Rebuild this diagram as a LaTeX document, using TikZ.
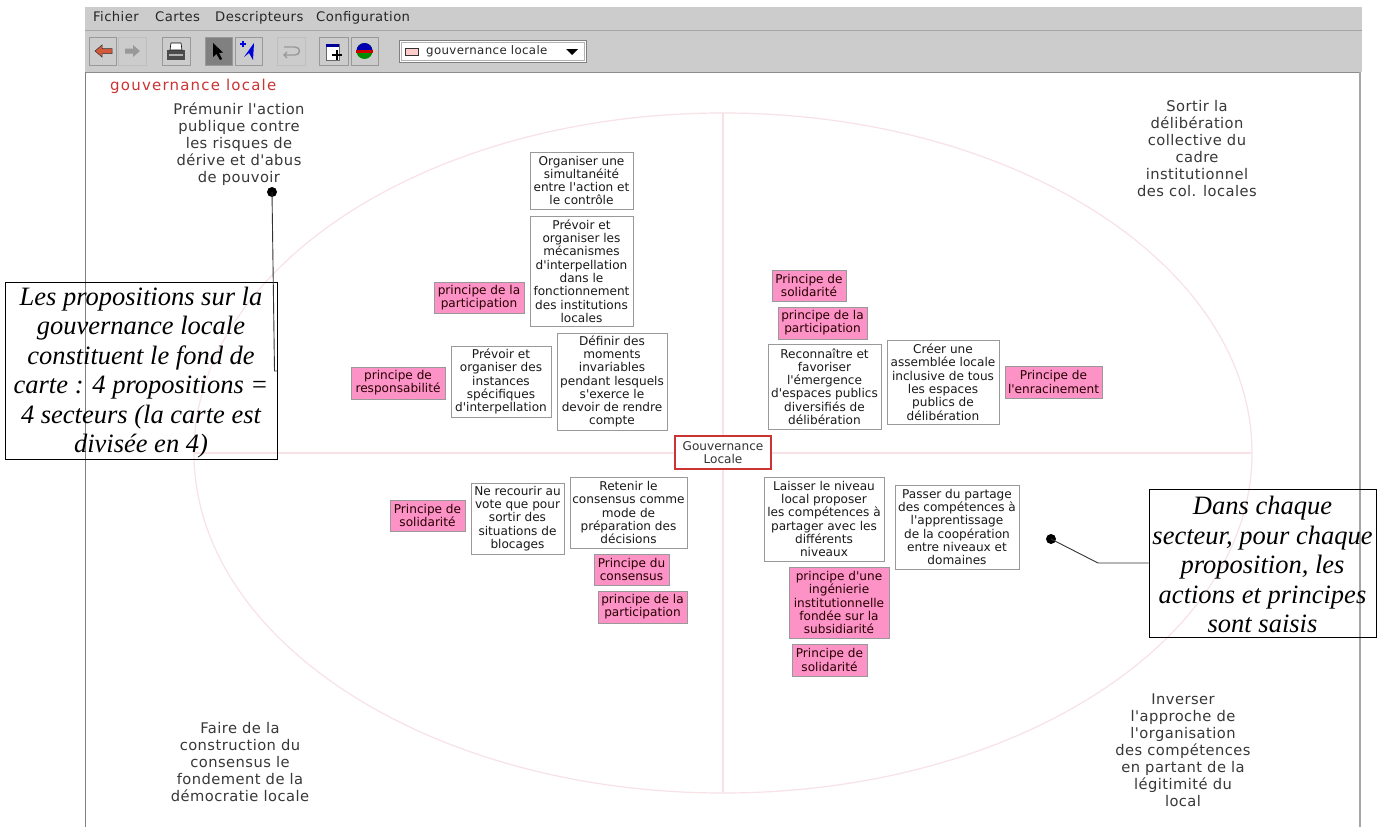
\documentclass[tikz,border=0pt]{standalone}
\usepackage{fontspec}
\setmainfont{DejaVu Sans}
\newfontfamily\boxfont{DejaVu Sans}
\newfontfamily\notefont{Liberation Serif}
\newfontfamily\spacedfont[LetterSpace=3]{DejaVu Sans}
\newfontfamily\titlefont[LetterSpace=8]{DejaVu Sans}
\newcommand\Bx[7]{\pgfmathsetmacro\bw{#5-#3}\pgfmathsetmacro\bh{#6-#4}\node[#1,minimum width=\bw pt,minimum height=\bh pt] (#2) at ({(#3+#5)/2},{(#4+#6)/2}) {#7};}
\definecolor{chrome}{HTML}{CCCCCC}
\definecolor{framegrey}{HTML}{999999}
\definecolor{axispink}{HTML}{F8E2E6}
\definecolor{princ}{HTML}{FC92C6}
\definecolor{centrered}{HTML}{CC3333}
\definecolor{backred}{HTML}{D4583A}
\tikzset{
  base/.style={inner sep=0pt,outer sep=0pt,align=center,font=\boxfont\fontsize{12.1}{13.3}\selectfont},
  actionbox/.style={base,draw=framegrey,line width=1pt,fill=white,text=black!90},
  princbox/.style={base,draw=framegrey,line width=1pt,fill=princ,text=black!85!red},
  centrebox/.style={base,draw=centrered,line width=1.1pt,fill=white,text=black!80},
  sector/.style={inner sep=0pt,align=center,text=black!78,font=\spacedfont\fontsize{14.7}{17}\selectfont},
  menuitem/.style={inner sep=0pt,anchor=west,text=black!85,text height=9pt,text depth=3pt,font=\spacedfont\fontsize{13.2}{14}\selectfont},
  notebox/.style={draw=black,line width=.8pt,inner sep=0pt,align=center,font=\notefont\itshape\fontsize{26.5}{29.5}\selectfont},
  notedot/.style={circle,fill=black,inner sep=0pt,minimum size=10pt},
  noteline/.style={draw=black!80,line width=.9pt},
  tool/.style={draw=black!40,fill=chrome,line width=.8pt},
}
\begin{document}
\begin{tikzpicture}[x=1pt,y=-1pt]
\useasboundingbox (0,0) rectangle (1390,827);
\fill[white] (0,0) rectangle (1390,827);
% window chrome
\fill[chrome] (85,7) rectangle (1362,72);
\draw[black!35,line width=.8pt] (85,30.5) -- (1362,30.5);
\draw[black!45,line width=.8pt] (85,72.5) -- (1360,72.5);
\draw[black!50,line width=1pt] (85.5,72) -- (85.5,827);
\draw[black!35,line width=2pt] (1360,72) -- (1360,827);
% menu
\node[menuitem] (m1) at (93,18) {Fichier};
\node[menuitem] (m2) at (155,18) {Cartes};
\node[menuitem] (m3) at (215,18) {Descripteurs};
\node[menuitem] (m4) at (316,18) {Configuration};
% toolbar buttons
\draw[tool] (89,37) rectangle (116,65);
\draw[tool,draw=black!25] (118,37) rectangle (146,65);
\draw[tool] (162,37) rectangle (190,65);
\draw[tool,fill=black!50] (205,37) rectangle (232,65);
\draw[tool] (235,37) rectangle (262,65);
\draw[tool,draw=black!25] (277,37) rectangle (305,65);
\draw[tool] (319,37) rectangle (348,65);
\draw[tool] (351,37) rectangle (378,65);
% back / forward
\fill[backred,draw=black!80,line width=.5pt] (95,51) -- (102,45) -- (102,48.5) -- (112,48.5) -- (112,53.5) -- (102,53.5) -- (102,57) -- cycle;
\fill[black!40] (140,51) -- (133,45) -- (133,48.5) -- (125,48.5) -- (125,53.5) -- (133,53.5) -- (133,57) -- cycle;
% printer
\fill[black!70] (167,50) rectangle (185,60);
\fill[white,draw=black,line width=.6pt] (171,43) -- (181,43) -- (182,50) -- (170,50) -- cycle;
\fill[black!30] (169,54) rectangle (183,56);
% arrow cursor
\fill[black] (213,43) -- (213,57) -- (216.5,54) -- (220,60) -- (222,59) -- (219,53) -- (223,52.5) -- cycle;
% placing tool
\fill[blue!85!black] (254,43) -- (253,60) -- (249,53) -- (244,57) -- cycle;
\draw[blue!85!black,line width=1.3pt] (240,44) -- (246,44) (243,41) -- (243,47);
% return
\draw[black!40,line width=1.4pt] (284,47) -- (295,47) .. controls (301,47) and (301,55) .. (295,55) -- (284,55) (287,52) -- (284,55) -- (287,58);
% table plus
\fill[white,draw=black!60,line width=.6pt] (326,44) rectangle (339,60);
\fill[blue!60!black] (326,44) rectangle (339,46.5);
\draw[black,line width=1.2pt] (337,50) -- (337,60) (332,55) -- (342,55);
% globe
\fill[green!55!black] (364.5,51) circle (8);
\fill[blue!70!black] (356.5,51) arc (180:360:8) -- cycle;
\fill[red!80!black] (356,49.5) rectangle (373,52.5);
% combo
\draw[black!50,fill=white,line width=.8pt] (399,40) rectangle (586,62);
\draw[black!30,line width=.6pt] (401,42) rectangle (584,60);
\fill[red!20,draw=black!80,line width=.6pt] (405,48) rectangle (418,55);
\node[menuitem,font=\spacedfont\fontsize{11.8}{13}\selectfont] (combo) at (426,51) {gouvernance locale};
\fill[black] (566,49) -- (578,49) -- (572,55) -- cycle;
% map background
\coordinate (c) at (723,453);
\draw[axispink,line width=1.2pt] (c) ellipse [x radius=529,y radius=340];
\draw[axispink,line width=1.2pt] (723,113) -- (723,793);
\draw[axispink,line width=1.2pt] (194,453) -- (1252,453);
\node[anchor=west,inner sep=0pt,text=centrered,font=\titlefont\fontsize{15}{15}\selectfont] (title) at (110,86) {gouvernance locale};
% sector labels
\node[sector] (s1) at (239,144) {Prémunir l'action\\publique contre\\les risques de\\dérive et d'abus\\de pouvoir};
\node[sector] (s2) at (1197,149) {Sortir la\\délibération\\collective du\\cadre\\institutionnel\\des col. locales};
\node[sector] (s3) at (240,762) {Faire de la\\construction du\\consensus le\\fondement de la\\démocratie locale};
\node[sector] (s4) at (1183,750) {Inverser\\l'approche de\\l'organisation\\des compétences\\en partant de la\\légitimité du\\local};
% upper left
\Bx{actionbox}{a1}{530}{152}{633}{209}{Organiser une\\simultanéité\\entre l'action et\\le contrôle}
\Bx{actionbox}{a2}{530}{216}{633}{326}{Prévoir et\\organiser les\\mécanismes\\d'interpellation\\dans le\\fonctionnement\\des institutions\\locales}
\Bx{princbox}{p1}{434}{282}{524}{313}{principe de la\\participation}
\Bx{actionbox}{a3}{451}{346}{551}{417}{Prévoir et\\organiser des\\instances\\spécifiques\\d'interpellation}
\Bx{actionbox}{a4}{557}{333}{667}{430}{Définir des\\moments\\invariables\\pendant lesquels\\s'exerce le\\devoir de rendre\\compte}
\Bx{princbox}{p2}{351}{367}{445}{399}{principe de\\responsabilité}
% upper right
\Bx{princbox}{p3}{772}{270}{846}{301}{Principe de\\solidarité}
\Bx{princbox}{p4}{778}{307}{867}{339}{principe de la\\participation}
\Bx{actionbox}{a5}{768}{344}{881}{429}{Reconnaître et\\favoriser\\l'émergence\\d'espaces publics\\diversifiés de\\délibération}
\Bx{actionbox}{a6}{887}{340}{999}{424}{Créer une\\assemblée locale\\inclusive de tous\\les espaces\\publics de\\délibération}
\Bx{princbox}{p5}{1005}{366}{1102}{398}{Principe de\\l'enracinement}
% centre
\Bx{centrebox}{gl}{675}{436}{771}{469}{Gouvernance\\Locale}
% lower left
\Bx{princbox}{p6}{390}{500}{465}{531}{Principe de\\solidarité}
\Bx{actionbox}{a7}{471}{483}{564}{554}{Ne recourir au\\vote que pour\\sortir des\\situations de\\blocages}
\Bx{actionbox}{a8}{570}{477}{687}{548}{Retenir le\\consensus comme\\mode de\\préparation des\\décisions}
\Bx{princbox}{p7}{594}{554}{669}{585}{Principe du\\consensus}
\Bx{princbox}{p8}{598}{591}{687}{623}{principe de la\\participation}
% lower right
\Bx{actionbox}{a9}{764}{477}{884}{561}{Laisser le niveau\\local proposer\\les compétences à\\partager avec les\\différents\\niveaux}
\Bx{actionbox}{a10}{895}{485}{1019}{569}{Passer du partage\\des compétences à\\l'apprentissage\\de la coopération\\entre niveaux et\\domaines}
\Bx{princbox}{p9}{789}{567}{889}{638}{principe d'une\\ingénierie\\institutionnelle\\fondée sur la\\subsidiarité}
\Bx{princbox}{p10}{792}{644}{867}{676}{Principe de\\solidarité}
% annotations
\Bx{notebox}{n1}{5}{282}{277}{459}{\rule{0pt}{23pt}Les propositions sur la\\gouvernance locale\\constituent le fond de\\carte : 4 propositions =\\4 secteurs (la carte est\\divisée en 4)}
\Bx{notebox}{n2}{1149}{489}{1376}{637}{\rule{0pt}{22pt}Dans chaque\\secteur, pour chaque\\proposition, les\\actions et principes\\sont saisis}
\node[notedot] (d1) at (272,192) {};
\node[notedot] (d2) at (1051,539) {};
\coordinate (e1) at (274.5,371);
\coordinate (e2) at (1098,563);
\draw[noteline] (d1.center) -- (e1) -- (e1 -| n1.east);
\draw[noteline] (d2.center) -- (e2) -- (e2 -| n2.west);
\end{tikzpicture}
\end{document}
